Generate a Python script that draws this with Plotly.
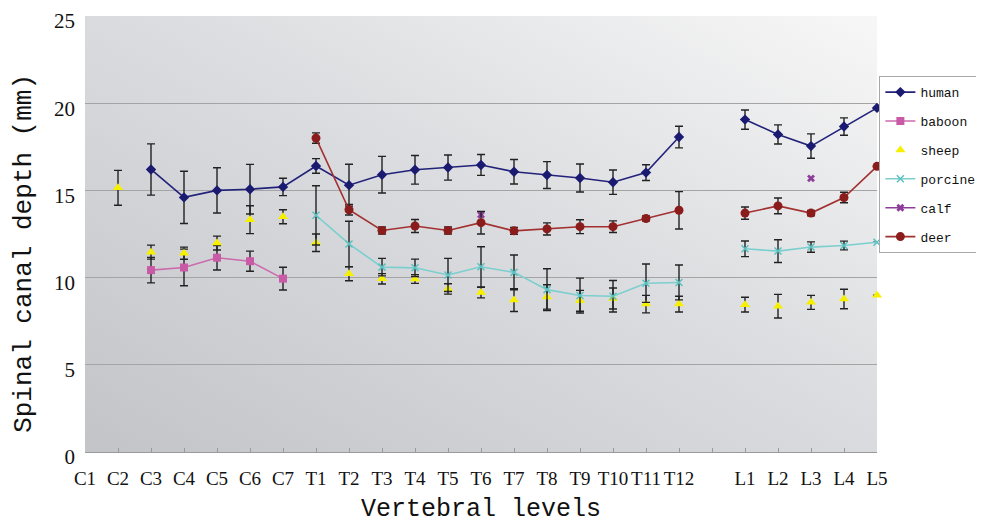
import base64
import plotly.graph_objects as go

# vertebral levels, blank slot between thoracic and lumbar
levels = ["C1", "C2", "C3", "C4", "C5", "C6", "C7",
          "T1", "T2", "T3", "T4", "T5", "T6", "T7", "T8", "T9", "T10", "T11", "T12",
          "",
          "L1", "L2", "L3", "L4", "L5"]

N = None
human = [N, N, 16.2, 14.6, 15.0, 15.07, 15.2,
         16.4, 15.3, 15.9, 16.18, 16.31, 16.46, 16.07, 15.88, 15.71, 15.47, 16.02, 18.06,
         N, 19.06, 18.21, 17.54, 18.66, 19.73]
human_sd = [N, N, 1.47, 1.5, 1.3, 1.42, 0.5,
            0.42, 1.2, 1.05, 0.82, 0.72, 0.6, 0.7, 0.77, 0.8, 0.7, 0.45, 0.62,
            N, 0.55, 0.55, 0.7, 0.5, 0]

baboon = [N, N, 10.43, 10.58, 11.14, 10.94, 9.94,
          N, N, N, N, N, N, N, N, N, N, N, N,
          N, N, N, N, N, N]
baboon_sd = [N, N, 0.73, 1.05, 0.7, 0.58, 0.65,
             N, N, N, N, N, N, N, N, N, N, N, N,
             N, N, N, N, N, N]

sheep = [N, 15.15, 11.46, 11.4, 11.98, 13.32, 13.49,
         12.0, 10.22, 9.93, 9.92, 9.35, 9.14, 8.71, 8.89, 8.67, 8.8, 8.48, 8.48,
         N, 8.45, 8.36, 8.58, 8.77, 8.99]
sheep_sd = [N, 1.0, 0.4, 0.35, 0.4, 0.8, 0.4,
            0.5, 0.4, 0.3, 0.25, 0.3, 0.3, 0.65, 0.7, 0.6, 0.6, 0.5, 0.45,
            N, 0.42, 0.68, 0.4, 0.56, 0]

porcine = [N, N, N, N, N, N, N,
           13.57, 11.93, 10.6, 10.56, 10.15, 10.62, 10.3, 9.31, 8.97, 8.93, 9.68, 9.72,
           N, 11.65, 11.52, 11.75, 11.84, 12.03]
porcine_sd = [N, N, N, N, N, N, N,
              1.7, 1.3, 0.5, 0.5, 0.95, 1.15, 1.0, 1.2, 1.0, 0.9, 1.1, 1.0,
              N, 0.45, 0.65, 0.3, 0.25, 0]

calf = [N, N, N, N, N, N, N,
        N, N, N, N, N, 13.6, N, N, N, N, N, N,
        N, N, N, 15.69, N, N]

deer = [N, N, N, N, N, N, N,
        18.0, 13.89, 12.7, 12.96, 12.7, 13.15, 12.68, 12.79, 12.92, 12.92, 13.39, 13.86,
        N, 13.7, 14.11, 13.7, 14.59, 16.38]
deer_sd = [N, N, N, N, N, N, N,
           0.3, 0.3, 0.2, 0.37, 0.2, 0.65, 0.2, 0.35, 0.4, 0.33, 0.15, 1.07,
           N, 0.35, 0.45, 0.15, 0.3, 0]

x = list(range(len(levels)))


def err(sd):
    return dict(type="data", array=sd, visible=True, color="#222222", thickness=1.4, width=4)


fig = go.Figure()
fig.add_trace(go.Scatter(x=x, y=human, name="human", mode="lines+markers",
                         line=dict(color="#22227a", width=1.6),
                         marker=dict(symbol="diamond", size=8, color="#1a1a70"),
                         error_y=err(human_sd), legendgroup="a"))
fig.add_trace(go.Scatter(x=x, y=baboon, name="baboon", mode="lines+markers",
                         line=dict(color="#cc6aae", width=1.6),
                         marker=dict(symbol="square", size=8, color="#c85aa6"),
                         error_y=err(baboon_sd), legendgroup="b"))
fig.add_trace(go.Scatter(x=x, y=sheep, name="sheep", mode="markers",
                         marker=dict(symbol="triangle-up", size=9, color="#f6f000"),
                         error_y=err(sheep_sd), legendgroup="c"))
fig.add_trace(go.Scatter(x=x, y=porcine, name="porcine", mode="lines+markers",
                         line=dict(color="#7ccfcf", width=1.6),
                         marker=dict(symbol="x-thin", size=7, color="#5cc0c0",
                                     line=dict(color="#5cc0c0", width=1.5)),
                         error_y=err(porcine_sd), legendgroup="d"))
fig.add_trace(go.Scatter(x=x, y=calf, name="calf", mode="lines+markers",
                         line=dict(color="#8e3c99", width=1.6),
                         marker=dict(symbol="x", size=7, color="#8e3c99"),
                         legendgroup="e"))
fig.add_trace(go.Scatter(x=x, y=deer, name="deer", mode="lines+markers",
                         line=dict(color="#a33030", width=1.6),
                         marker=dict(symbol="circle", size=9, color="#8b1c1c"),
                         error_y=err(deer_sd), legendgroup="f"))

for tr in fig.data:
    tr.cliponaxis = False

# diagonal grey gradient for the plot area (excel style)
svg = ('<svg xmlns="http://www.w3.org/2000/svg" width="100" height="100" preserveAspectRatio="none">'
       '<defs><linearGradient id="g" x1="0" y1="1" x2="1" y2="0">'
       '<stop offset="0" stop-color="#c2c4c8"/>'
       '<stop offset="0.55" stop-color="#dcdde0"/>'
       '<stop offset="1" stop-color="#f7f7f7"/>'
       '</linearGradient></defs>'
       '<rect width="100" height="100" fill="url(#g)"/></svg>')
bg = "data:image/svg+xml;base64," + base64.b64encode(svg.encode()).decode()

# page body has an 8px margin, so the figure is a bit smaller than the window
fig.update_layout(
    width=976, height=520,
    margin=dict(l=77, r=107, t=8, b=76, autoexpand=False),
    paper_bgcolor="white",
    plot_bgcolor="rgba(0,0,0,0)",
    showlegend=True,
    images=[dict(source=bg, xref="paper", yref="paper", x=0, y=1, sizex=1, sizey=1,
                 sizing="stretch", layer="below")],
    legend=dict(x=1.003, y=0.862, xanchor="left", yanchor="top",
                bgcolor="white", bordercolor="#a8a8a8", borderwidth=1,
                font=dict(family="Liberation Mono", size=13, color="#111111"),
                tracegroupgap=9, itemwidth=30),
    annotations=[
        dict(text="Spinal canal depth (mm)", xref="paper", yref="paper",
             x=-0.078, y=0.455, xanchor="center", yanchor="middle",
             textangle=-90, showarrow=False,
             font=dict(family="Liberation Mono", size=26, color="#111111")),
        dict(text="Vertebral levels", xref="paper", yref="paper",
             x=0.5, y=-0.132, xanchor="center", yanchor="middle", showarrow=False,
             font=dict(family="Liberation Mono", size=25, color="#111111")),
    ],
)

fig.update_xaxes(range=[0, len(levels) - 1], tickmode="array", tickvals=x, ticktext=levels,
                 showgrid=False, zeroline=False, showline=True, linecolor="#9a9a9a",
                 ticks="inside", ticklen=4, tickcolor="#9a9a9a", automargin=False,
                 ticklabelstandoff=9,
                 tickfont=dict(family="Liberation Serif", size=19, color="#111111"))
fig.update_yaxes(range=[0, 25], dtick=5, showgrid=True, gridcolor="#a4a4a4", gridwidth=1,
                 zeroline=False, showline=False, ticks="", automargin=False,
                 ticklabelstandoff=9, ticklabelshift=5, ticklabeloverflow="allow",
                 tickfont=dict(family="Liberation Serif", size=21, color="#111111"))

fig.write_html("out.html")
